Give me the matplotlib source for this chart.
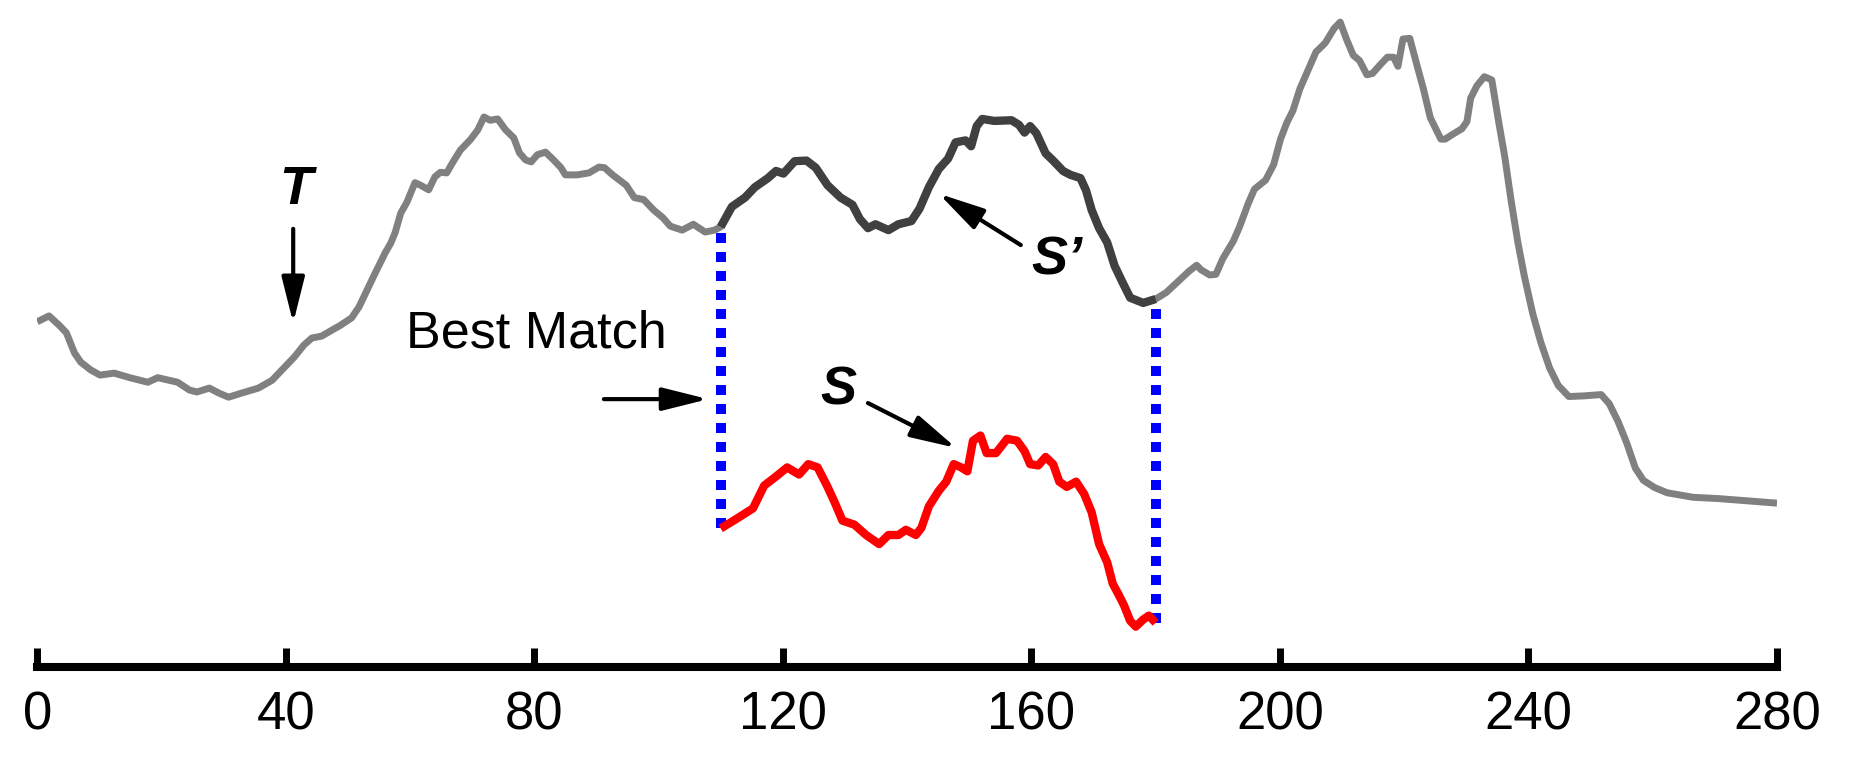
import numpy as np
import matplotlib
matplotlib.use("Agg")
import matplotlib.pyplot as plt

plt.rcParams['font.family'] = ['Liberation Sans', 'DejaVu Sans']

# full time series T
t_x = [0, 1.9, 3.5, 4.7, 6.0, 7.0, 8.6, 10.1, 12.4, 14.9, 17.8, 19.4, 22.6, 24.5,
       25.7, 27.7, 29.3, 30.8, 32.8, 35.6, 37.8, 39.4, 41.4, 42.9, 44.2, 45.8, 47.4,
       48.7, 50.6, 51.8, 53.1, 54.4, 56.0, 56.9, 57.6, 58.5, 59.5, 60.8, 61.7, 63.0,
       64.0, 64.9, 65.9, 66.8, 68.1, 69.7, 70.9, 71.9, 72.9, 74.1, 75.4, 76.7, 77.6,
       78.6, 79.5, 80.5, 81.8, 83.1, 84.3, 85.0, 86.9, 88.8, 90.4, 91.3, 92.6, 93.7,
       94.8, 96.1, 97.6, 99.2, 100.7, 101.9, 103.8, 105.6, 107.5, 109.0, 110.0, 111.8,
       113.9, 115.5, 117.6, 118.9, 120.1, 121.9, 123.8, 125.3, 127.2, 129.3, 131.2,
       132.4, 133.7, 134.9, 137.0, 138.6, 140.7, 142.0, 143.5, 145.1, 146.6, 147.8,
       149.4, 150.3, 151.2, 152.1, 154.0, 156.8, 158.0, 158.9, 159.8, 160.8, 162.3,
       163.5, 165.1, 166.3, 167.9, 168.8, 169.7, 170.9, 172.2, 173.4, 174.6, 175.9,
       178.0, 180.0, 181.7, 183.6, 185.4, 186.6, 187.3, 188.7, 189.7, 190.8, 192.5,
       193.5, 194.9, 195.9, 197.7, 199.0, 200.1, 201.1, 202.1, 203.2, 204.2, 205.8,
       207.3, 208.7, 209.7, 210.7, 211.8, 212.8, 214.0, 214.9, 216.2, 217.3, 218.3,
       219.0, 219.8, 220.9, 222.1, 223.1, 224.2, 225.9, 226.6, 227.9, 229.3, 230.1,
       230.7, 231.7, 232.9, 234.1, 235.2, 236.2, 237.2, 238.3, 239.3, 240.7, 242.0,
       243.4, 244.8, 246.5, 248.9, 251.7, 253.0, 254.4, 255.8, 257.2, 258.5, 260.3,
       262.3, 266.5, 270.6, 274.7, 280.0]
t_y = [50.8, 51.7, 50.3, 49.1, 46.0, 44.6, 43.4, 42.6, 42.9, 42.2, 41.5, 42.2, 41.5, 40.3,
       40.0, 40.6, 39.8, 39.2, 39.8, 40.6, 41.8, 43.4, 45.4, 47.2, 48.3, 48.6, 49.5,
       50.2, 51.4, 53.1, 55.7, 58.3, 61.4, 62.9, 64.5, 67.5, 69.2, 72.2, 71.8, 71.1,
       73.1, 73.8, 73.7, 75.2, 77.2, 78.8, 80.3, 82.3, 81.8, 82.0, 80.3, 79.1, 76.8,
       75.7, 75.4, 76.5, 76.9, 75.7, 74.5, 73.4, 73.4, 73.7, 74.6, 74.5, 73.4, 72.6,
       71.8, 69.9, 69.6, 68.0, 66.8, 65.5, 64.9, 65.8, 64.6, 64.9, 65.4, 68.5,
       69.9, 71.5, 72.9, 74.0, 73.6, 75.5, 75.6, 74.5, 71.8, 69.9, 68.8,
       66.6, 65.2, 65.8, 64.9, 65.8, 66.3, 68.2, 71.5, 74.3, 75.9, 78.4,
       78.7, 77.8, 80.9, 82.0, 81.7, 81.8, 81.1, 79.9, 80.9, 79.8, 76.7,
       75.6, 74.0, 73.4, 72.9, 71.0, 68.0, 65.2, 63.0, 59.4, 57.0, 54.5,
       53.7, 54.3, 55.3, 57.0, 58.6, 59.5, 58.8, 58.0, 58.1, 60.5, 63.2,
       65.4, 69.0, 71.2, 72.6, 75.0, 78.9, 81.4, 83.3, 86.6, 88.8, 92.3,
       93.7, 95.9, 96.9, 94.3, 91.8, 91.0, 88.8, 89.0, 90.4, 91.5, 91.5,
       90.1, 94.3, 94.4, 90.1, 86.6, 82.2, 78.9, 78.9, 79.7, 80.5, 81.6,
       85.2, 87.1, 88.5, 88.0, 81.6, 76.1, 69.5, 63.0, 58.0, 52.0, 47.6,
       43.7, 41.0, 39.3, 39.4, 39.6, 38.2, 35.5, 32.2, 28.3, 26.4, 25.3,
       24.5, 23.8, 23.6, 23.3, 22.9]

# query subsequence S
s_x = [110.0, 112.4, 115.2, 117.0, 118.9, 120.7, 122.6, 124.1, 125.6, 127.2, 128.4,
       129.6, 131.5, 133.4, 135.5, 137.0, 138.6, 139.8, 141.4, 142.3, 143.5, 145.1,
       146.3, 147.5, 148.7, 149.7, 150.6, 151.8, 152.8, 154.3, 156.1, 157.7, 158.9,
       159.8, 161.1, 162.3, 163.5, 164.5, 165.7, 167.2, 168.5, 169.7, 170.9, 172.2,
       173.1, 174.0, 174.9, 175.9, 176.8, 178.0, 178.9, 180.0]
s_y = [19.0, 20.4, 22.1, 25.6, 27.0, 28.4, 27.3, 28.9, 28.4, 25.4, 22.9,
       20.2, 19.6, 18.0, 16.6, 18.0, 18.0, 18.8, 18.0, 19.1, 22.4, 24.8,
       26.2, 28.9, 28.4, 27.8, 32.5, 33.3, 30.6, 30.6, 32.8, 32.5, 30.9,
       28.9, 28.7, 30.0, 28.9, 26.2, 25.4, 26.2, 24.3, 21.5, 16.6, 13.8,
       10.5, 8.9, 7.2, 4.8, 3.9, 5.0, 5.6, 4.5]

match_bounds = [110, 180]
x_ticks = [0, 40, 80, 120, 160, 200, 240, 280]

t_x = np.array(t_x)
t_y = np.array(t_y)

fig = plt.figure(figsize=(18.5, 7.65), dpi=100)
ax = fig.add_axes([0.02011, 0.1285, 0.94043, 0.8715])

# blue dotted connectors between S' and S
for xb in match_bounds:
    ax.plot([xb, xb], [np.interp(xb, s_x, s_y), np.interp(xb, t_x, t_y)],
            color='#0000ff', lw=7.2, linestyle=(0, (1.0, 0.9)),
            dash_capstyle='butt', zorder=1)

ax.plot(t_x, t_y, color='#808080', lw=5.0, solid_capstyle='butt',
        solid_joinstyle='round', zorder=2)
m = (t_x >= match_bounds[0]) & (t_x <= match_bounds[1])
ax.plot(t_x[m], t_y[m], color='#404040', lw=6.0, solid_capstyle='butt',
        solid_joinstyle='round', zorder=3)
ax.plot(s_x, s_y, color='#ff0000', lw=6.0, solid_capstyle='butt',
        solid_joinstyle='round', zorder=3)

arrow = dict(arrowstyle='-|>,head_length=2.8,head_width=0.7', mutation_scale=10,
             lw=3.0, color='black', shrinkA=0, shrinkB=0)

ax.annotate('', xy=(41.2, 50.6), xytext=(41.2, 65.1), arrowprops=arrow)
ax.text(41.6, 71.1, 'T', fontsize=39, fontweight='bold', fontstyle='italic',
        ha='center', va='center')

ax.text(80.35, 48.9, 'Best Match', fontsize=37.5, ha='center', va='center')
ax.annotate('', xy=(108.0, 38.9), xytext=(91.2, 38.9), arrowprops=arrow)

ax.text(128.9, 40.2, 'S', fontsize=39, fontweight='bold', fontstyle='italic',
        ha='center', va='center')
ax.annotate('', xy=(147.9, 31.4), xytext=(133.7, 38.3), arrowprops=arrow)

ax.text(164.1, 60.3, 'S\u2019', fontsize=39, fontweight='bold', fontstyle='italic',
        ha='center', va='center')
ax.annotate('', xy=(145.1, 70.5), xytext=(158.3, 62.6), arrowprops=arrow)

ax.set_xlim(0, 280)
ax.set_ylim(-2.26, 100.3)
for side in ['left', 'right', 'top']:
    ax.spines[side].set_visible(False)
ax.spines['bottom'].set_linewidth(5.8)
ax.spines['bottom'].set_capstyle('projecting')
ax.set_yticks([])
ax.set_xticks(x_ticks)
ax.tick_params(axis='x', direction='in', length=13.7, width=5.0, pad=17,
               labelsize=38, color='black')

fig.savefig('out.png', dpi=100)
